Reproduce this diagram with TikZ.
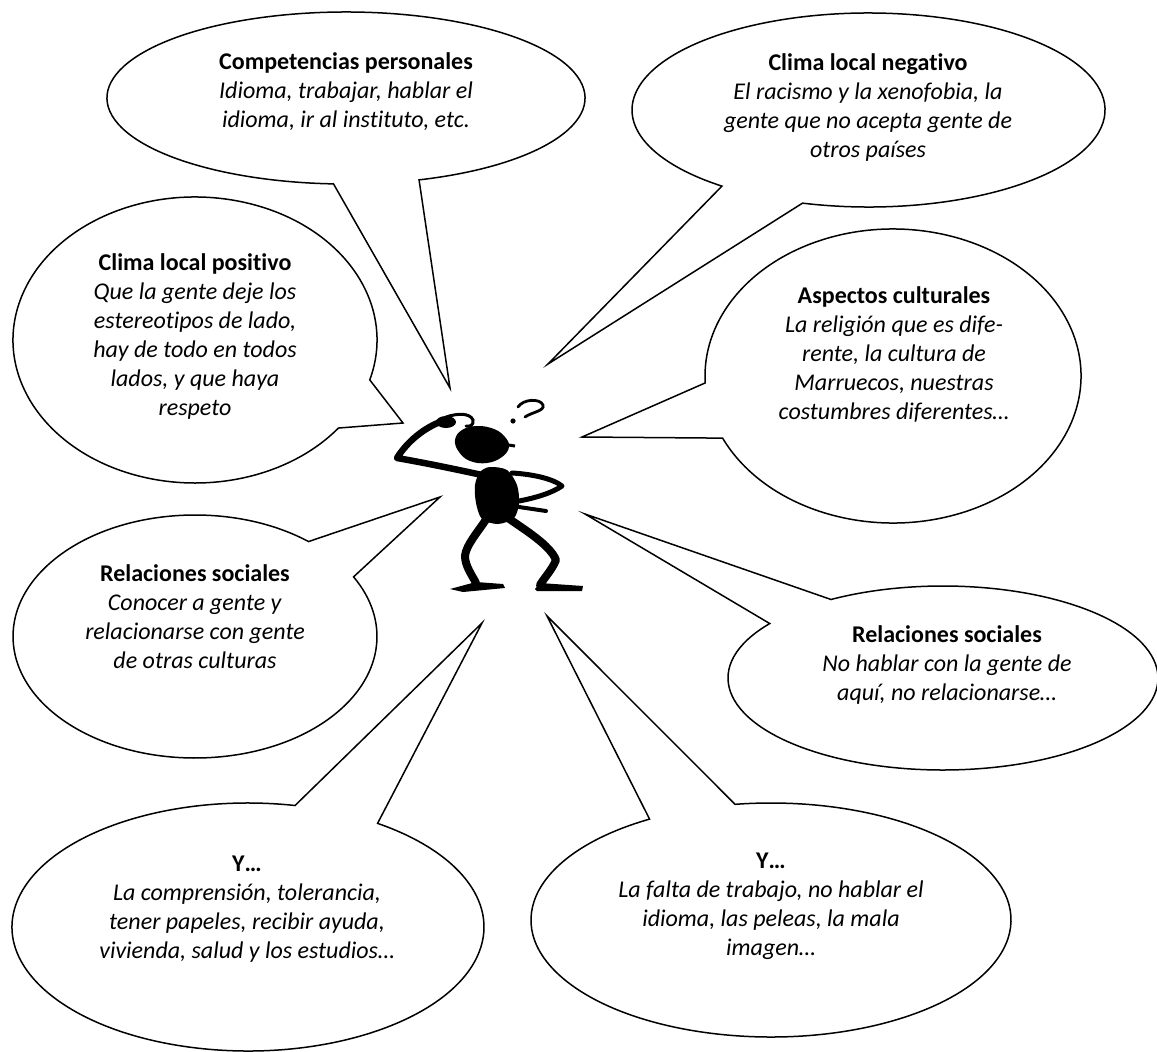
\documentclass[tikz,border=0pt]{standalone}
\usepackage{fontspec}
\setmainfont{Carlito}[Ligatures=NoCommon]
\begin{document}
\begin{tikzpicture}[x=1pt,y=1pt,
  bubble/.style={draw=black, line width=1.5pt, fill=white, line join=miter},
  bubbletext/.style={anchor=north, align=center, inner sep=0pt,
    font=\fontsize{24}{29}\selectfont},
  limb/.style={line cap=round, line join=round}]
\useasboundingbox (0,0) rectangle (1157,-1052);

% speech bubble: centre x, centre y (downwards), x radius, y radius,
% start angle, end angle of the outline arc, tip x, tip y (downwards)
\newcommand\speechbubble[8]{%
  \draw[bubble] (#1,-#2) ++(#5:#3pt and #4pt)
    arc[start angle=#5, end angle=#6, x radius=#3pt, y radius=#4pt]
    -- (#7,-#8) -- cycle;}

\speechbubble{346}{98}{239}{86}{287.8}{627}{450}{388}
\speechbubble{868.5}{110}{236.5}{97}{253.8}{591.7}{548}{364}
\speechbubble{195}{340}{182}{143}{343.8}{682}{403}{423}
\speechbubble{893}{376}{188}{147}{205}{542.7}{582}{437}
\speechbubble{195}{636.5}{182}{121.5}{51.4}{389.4}{440}{497}
\speechbubble{943}{678}{215}{92}{143.7}{481.4}{585}{514}
\speechbubble{248}{927}{236}{124}{78.5}{416.7}{482}{623}
\speechbubble{771}{920}{240}{117}{120.4}{458.6}{547}{616}

% texts
\node[bubbletext] (competencias) at (346,-52.5)
  {\textbf{Competencias personales}\\\textit{Idioma, trabajar, hablar el}\\\textit{idioma, ir al instituto, etc.}};
\node[bubbletext] (negativo) at (868,-53.5)
  {\textbf{Clima local negativo}\\\textit{El racismo y la xenofobia, la}\\\textit{gente que no acepta gente de}\\\textit{otros países}};
\node[bubbletext] (positivo) at (195,-253.5)
  {\textbf{Clima local positivo}\\\textit{Que la gente deje los}\\\textit{estereotipos de lado,}\\\textit{hay de todo en todos}\\\textit{lados, y que haya}\\\textit{respeto}};
\node[bubbletext] (culturales) at (894,-286.5)
  {\textbf{Aspectos culturales}\\\textit{La religión que es dife-}\\\textit{rente, la cultura de}\\\textit{Marruecos, nuestras}\\\textit{costumbres diferentes…}};
\node[bubbletext] (relacionesA) at (195,-564)
  {\textbf{Relaciones sociales}\\\textit{Conocer a gente y}\\\textit{relacionarse con gente}\\\textit{de otras culturas}};
\node[bubbletext] (relacionesB) at (947,-625.5)
  {\textbf{Relaciones sociales}\\\textit{No hablar con la gente de}\\\textit{aquí, no relacionarse…}};
\node[bubbletext] (yA) at (247,-855.5)
  {\textbf{Y…}\\\textit{La comprensión, tolerancia,}\\\textit{tener papeles, recibir ayuda,}\\\textit{vivienda, salud y los estudios…}};
\node[bubbletext] (yB) at (771,-852.5)
  {\textbf{Y…}\\\textit{La falta de trabajo, no hablar el}\\\textit{idioma, las peleas, la mala}\\\textit{imagen…}};

% the puzzled stick figure
\begin{scope}[yscale=-1]
  % head
  \fill plot[smooth cycle, tension=0.7] coordinates
    {(455,440) (462,430) (477,426) (494,429) (505,437) (509,447)
     (502,457) (487,463) (470,461) (459,452)};
  \draw[line width=3pt] (502,444) -- (515,446);
  % question mark
  \draw[line width=2.8pt, line cap=round]
    (518,407) .. controls (523,399) and (540,398) .. (543,405)
    .. controls (545,411) and (532,412) .. (525,417);
  \fill (513,421) circle [radius=2.6];
  % body
  \fill plot[smooth cycle] coordinates
    {(490,467) (507,470) (517,485) (519,503) (514,518) (498,524)
     (482,519) (476,503) (475,485) (480,472)};
  % raised arm and hand on the head
  \draw[limb, line width=6.5pt]
    (482,475) .. controls (450,468) and (420,462) .. (397,458)
    .. controls (405,445) and (420,430) .. (440,422);
  \fill (446,422) ellipse [x radius=10, y radius=6];
  \draw[line width=3pt, line cap=round]
    (446,417) .. controls (458,413) and (470,413) .. (473,420)
    .. controls (474,425) and (470,427) .. (466,426);
  % arm on the hip
  \draw[limb, line width=5pt]
    (512,473) .. controls (530,474) and (552,478) .. (562,486)
    .. controls (552,493) and (535,498) .. (519,501);
  \draw[line width=4pt, line cap=round] (519,507) -- (546,511);
  % legs
  \draw[limb, line width=8pt]
    (487,518) .. controls (478,532) and (466,545) .. (465,556)
    .. controls (465,566) and (472,575) .. (476,583);
  \draw[limb, line width=8pt]
    (508,518) .. controls (525,530) and (550,545) .. (556,560)
    .. controls (552,570) and (544,578) .. (540,585);
  % feet
  \fill (450,589) -- (476,582) -- (503,584) -- (505,588) -- (463,592) -- cycle;
  \fill (535,589) -- (540,583) -- (583,586) -- (582,591) -- (537,591) -- cycle;
\end{scope}
\end{tikzpicture}
\end{document}
